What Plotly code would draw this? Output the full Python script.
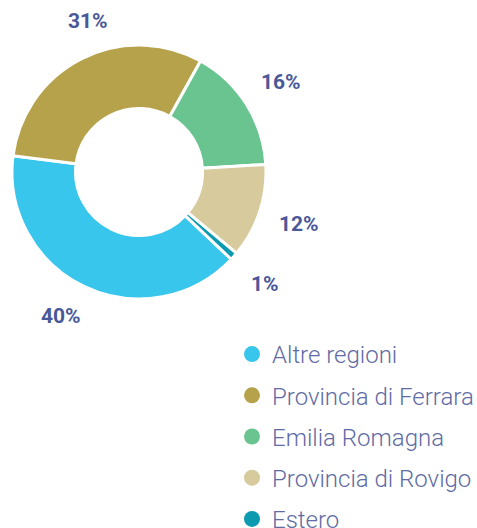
import math
import plotly.graph_objects as go

labels = ["Altre regioni", "Provincia di Ferrara", "Emilia Romagna", "Provincia di Rovigo", "Estero"]
values = [40, 31, 16, 12, 1]
colors = ["#38c6ec", "#b6a24b", "#6ac490", "#d7ca9c", "#0c9ab0"]

W, H = 477, 528
cx, cy, R = 139, 172, 127
rotation = 133.4
label_r = 168
# small angular / radial nudges for a couple of labels (layout only)
label_nudge = {"Provincia di Ferrara": (8, -9), "Altre regioni": (3, -4)}

fig = go.Figure()
fig.add_trace(go.Pie(
    labels=labels, values=values, sort=False, direction="clockwise",
    rotation=rotation, hole=0.5, textinfo="none", showlegend=False,
    marker=dict(colors=colors, line=dict(color="white", width=3)),
    domain=dict(x=[(cx - R) / W, (cx + R) / W], y=[1 - (cy + R) / H, 1 - (cy - R) / H]),
    hoverinfo="label+percent",
))

# legend entries
for lab, col in zip(labels, colors):
    fig.add_trace(go.Scatter(
        x=[None], y=[None], mode="markers", name=lab, legendgroup=lab,
        marker=dict(color=col, size=18, symbol="circle"), showlegend=True,
    ))

# percentage labels
total = sum(values)
ang = rotation
annotations = []
for lab, v in zip(labels, values):
    mid = ang + v / total * 360 / 2
    ang += v / total * 360
    da, dr = label_nudge.get(lab, (0, 0))
    t = math.radians(mid + da)
    r = label_r + dr
    px = cx + r * math.sin(t)
    py = cy - r * math.cos(t)
    annotations.append(dict(
        x=px / W, y=1 - py / H, xref="paper", yref="paper", showarrow=False,
        text=f"<b>{v}%</b>", font=dict(family="Roboto", size=21, color="#4a5899"),
        xanchor="center", yanchor="middle",
    ))

fig.update_layout(
    width=W, height=H, margin=dict(l=0, r=0, t=0, b=0, autoexpand=False),
    paper_bgcolor="white", plot_bgcolor="white",
    xaxis=dict(visible=False), yaxis=dict(visible=False),
    annotations=annotations,
    legend=dict(
        x=232 / W, y=1 - 332 / H, xanchor="left", yanchor="top",
        font=dict(family="Roboto", size=24, color="#5f6ba3", weight=300),
        tracegroupgap=7, traceorder="grouped", bgcolor="rgba(0,0,0,0)",
        itemsizing="trace",
    ),
)

fig.write_html("out.html", post_script="document.body.style.margin='0';",
               config={"displayModeBar": False})
